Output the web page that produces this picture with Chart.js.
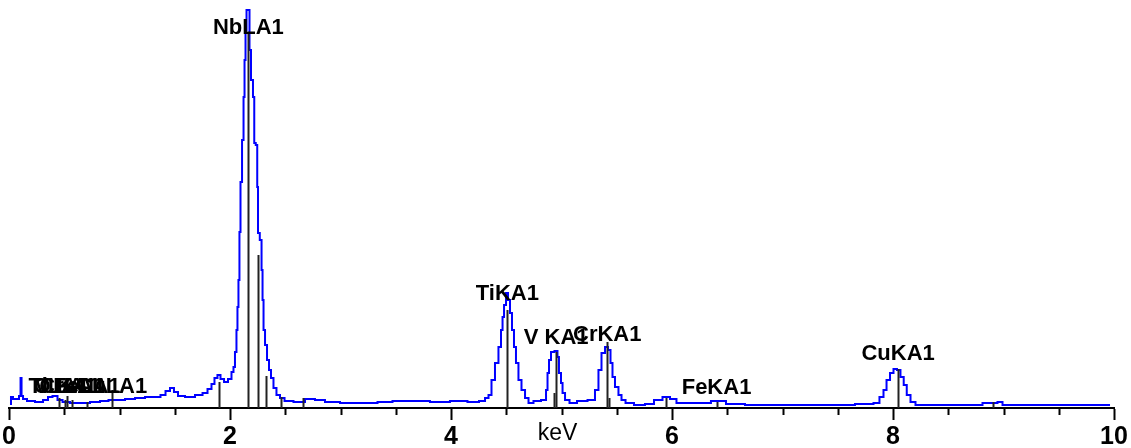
<!DOCTYPE html>
<html>
<head>
<meta charset="utf-8">
<script src="https://cdn.jsdelivr.net/npm/chart.js@4/dist/chart.umd.min.js"></script>
<style>
  body { margin: 0; background: #fff; }
  #wrap { width: 1131px; height: 448px; }
</style>
</head>
<body>
<div id="wrap"><canvas id="spectrum" width="1131" height="448"></canvas></div>
<script>
// EDS spectrum, energy in keV, intensity in arbitrary counts
const spectrumKeV = [
  0.009, 0.027, 0.045, 0.081, 0.100, 0.109, 0.118, 0.136, 0.190, 0.281,
  0.335, 0.371, 0.416, 0.462, 0.507, 0.597, 0.688, 0.778, 0.869, 0.932,
  1.005, 1.095, 1.186, 1.276, 1.348, 1.394, 1.439, 1.475, 1.511, 1.548,
  1.638, 1.729, 1.774, 1.819, 1.846, 1.873, 1.900, 1.928, 1.964, 2.000,
  2.027, 2.036, 2.054, 2.063, 2.072, 2.081, 2.090, 2.100, 2.118, 2.127,
  2.136, 2.145, 2.154, 2.172, 2.181, 2.199, 2.217, 2.222, 2.244, 2.249,
  2.258, 2.281, 2.290, 2.299, 2.308, 2.326, 2.344, 2.362, 2.380, 2.407,
  2.434, 2.471, 2.516, 2.633, 2.724, 2.814, 2.905, 3.086, 3.267, 3.403,
  3.538, 3.719, 3.900, 4.081, 4.217, 4.290, 4.326, 4.353, 4.380, 4.416,
  4.443, 4.462, 4.471, 4.489, 4.507, 4.525, 4.543, 4.561, 4.579, 4.597,
  4.624, 4.652, 4.688, 4.715, 4.778, 4.851, 4.869, 4.878, 4.896, 4.914,
  4.959, 4.968, 4.986, 5.005, 5.014, 5.050, 5.095, 5.186, 5.285, 5.321,
  5.348, 5.376, 5.412, 5.430, 5.457, 5.466, 5.502, 5.529, 5.557, 5.602,
  5.710, 5.801, 5.873, 5.955, 6.009, 6.072, 6.253, 6.452, 6.525, 6.796,
  7.158, 7.520, 7.792, 7.855, 7.900, 7.928, 7.955, 7.991, 8.018, 8.054,
  8.081, 8.113, 8.136, 8.181, 8.226, 8.516, 8.787, 8.833, 8.923, 8.968,
  9.014, 9.421, 9.964
];
const spectrumCounts = [
  4, 11, 9, 9, 12, 30, 12, 9, 7, 6,
  8, 11, 12, 8, 6, 5, 5, 6, 7, 8,
  8, 9, 10, 11, 11, 13, 17, 20, 16, 12,
  11, 13, 15, 19, 24, 30, 33, 29, 26, 29,
  36, 41, 56, 78, 101, 128, 176, 226, 268, 311,
  348, 378, 398, 398, 358, 328, 311, 265, 263, 221,
  175, 168, 138, 108, 78, 63, 48, 38, 30, 20,
  13, 10, 7, 6, 9, 8, 6, 5, 5, 6,
  7, 7, 6, 7, 6, 7, 10, 13, 28, 45,
  61, 78, 91, 103, 115, 108, 95, 78, 61, 45,
  28, 18, 10, 5, 7, 8, 18, 35, 48, 56,
  57, 51, 35, 25, 15, 8, 5, 7, 8, 18,
  38, 55, 61, 58, 45, 31, 21, 13, 8, 5,
  3, 4, 8, 11, 9, 5, 5, 7, 4, 3,
  3, 3, 4, 5, 11, 18, 28, 35, 39, 38,
  31, 23, 13, 6, 3, 3, 3, 5, 5, 6,
  3, 3, 3
];

// element marker lines
const lineKeV    = [0.452, 0.511, 0.525, 0.573, 0.705, 0.930, 1.902, 2.166, 2.257, 2.330, 2.462, 2.664,
                    4.510, 4.931, 4.952, 5.414, 5.427, 5.946, 6.403, 8.046, 8.904];
const lineCounts = [10, 8, 12, 8, 6, 18, 26, 375, 153, 32, 11, 10,
                    98, 15, 56, 66, 10, 10, 6, 39, 6];

// peak labels
const labelText   = ["TiLA1", "V LA1", "O KA1", "CrLA1", "FeLA1", "CuLA1",
                     "NbLA1", "TiKA1", "V KA1", "CrKA1", "FeKA1", "CuKA1"];
const labelKeV    = [0.452, 0.511, 0.525, 0.573, 0.705, 0.930,
                     2.166, 4.510, 4.952, 5.414, 6.403, 8.046];
const labelCounts = [21, 21, 21, 21, 21, 21, 380, 114, 70, 73, 20, 54];

const axisTitle = "keV";

const points = spectrumKeV.map((e, i) => ({ x: e, y: spectrumCounts[i] }));

const overlay = {
  id: "overlay",
  afterDatasetsDraw(chart) {
    const ctx = chart.ctx;
    const xs = chart.scales.x, ys = chart.scales.y;
    ctx.save();
    // marker lines
    ctx.strokeStyle = "#222";
    ctx.lineWidth = 2;
    lineKeV.forEach((e, i) => {
      const px = Math.round(xs.getPixelForValue(e)) + 0.5;
      ctx.beginPath();
      ctx.moveTo(px, ys.getPixelForValue(0));
      ctx.lineTo(px, ys.getPixelForValue(lineCounts[i]));
      ctx.stroke();
    });
    // minor ticks (odd half-steps) shorter than the major ones
    ctx.strokeStyle = "#000";
    xs.ticks.forEach(t => {
      if (t.value % 2 !== 0) {
        const px = Math.round(xs.getPixelForValue(t.value)) + 0.5;
        ctx.beginPath();
        ctx.moveTo(px, xs.top);
        ctx.lineTo(px, xs.top + 7);
        ctx.stroke();
      }
    });
    // labels
    ctx.fillStyle = "#000";
    ctx.font = "bold 22px Arial, 'Liberation Sans', sans-serif";
    ctx.textAlign = "center";
    ctx.textBaseline = "middle";
    labelText.forEach((s, i) => {
      ctx.fillText(s, xs.getPixelForValue(labelKeV[i]), ys.getPixelForValue(labelCounts[i]));
    });
    // axis title, same line as the tick labels
    ctx.font = "23px Arial, 'Liberation Sans', sans-serif";
    ctx.fillText(axisTitle, (chart.chartArea.left + chart.chartArea.right) / 2 - 4, xs.top + 26);
    ctx.restore();
  }
};

new Chart(document.getElementById("spectrum"), {
  type: "line",
  data: {
    datasets: [{
      data: points,
      borderColor: "#0000ff",
      borderWidth: 2,
      pointRadius: 0,
      stepped: "middle",
      fill: false
    }]
  },
  options: {
    responsive: false,
    animation: false,
    layout: { padding: { left: 9, right: 17, top: 0, bottom: 0 } },
    plugins: { legend: { display: false }, tooltip: { enabled: false } },
    scales: {
      x: {
        type: "linear",
        min: 0,
        max: 10,
        afterFit: (scale) => { scale.height = 40; },
        border: { display: true, color: "#000", width: 2 },
        grid: {
          display: true,
          drawOnChartArea: false,
          drawTicks: true,
          tickLength: 12,
          tickWidth: 2,
          tickColor: (c) => (c.tick && c.tick.value % 2 === 0 ? "#000" : "rgba(0,0,0,0)")
        },
        ticks: {
          stepSize: 0.5,
          autoSkip: false,
          maxRotation: 0,
          padding: 2,
          color: "#000",
          font: { family: "Arial, 'Liberation Sans', sans-serif", size: 25, weight: "bold" },
          callback: (v) => (v % 2 === 0 ? String(v) : "")
        }
      },
      y: {
        display: false,
        min: 0,
        max: 408
      }
    }
  },
  plugins: [overlay]
});
</script>
</body>
</html>
